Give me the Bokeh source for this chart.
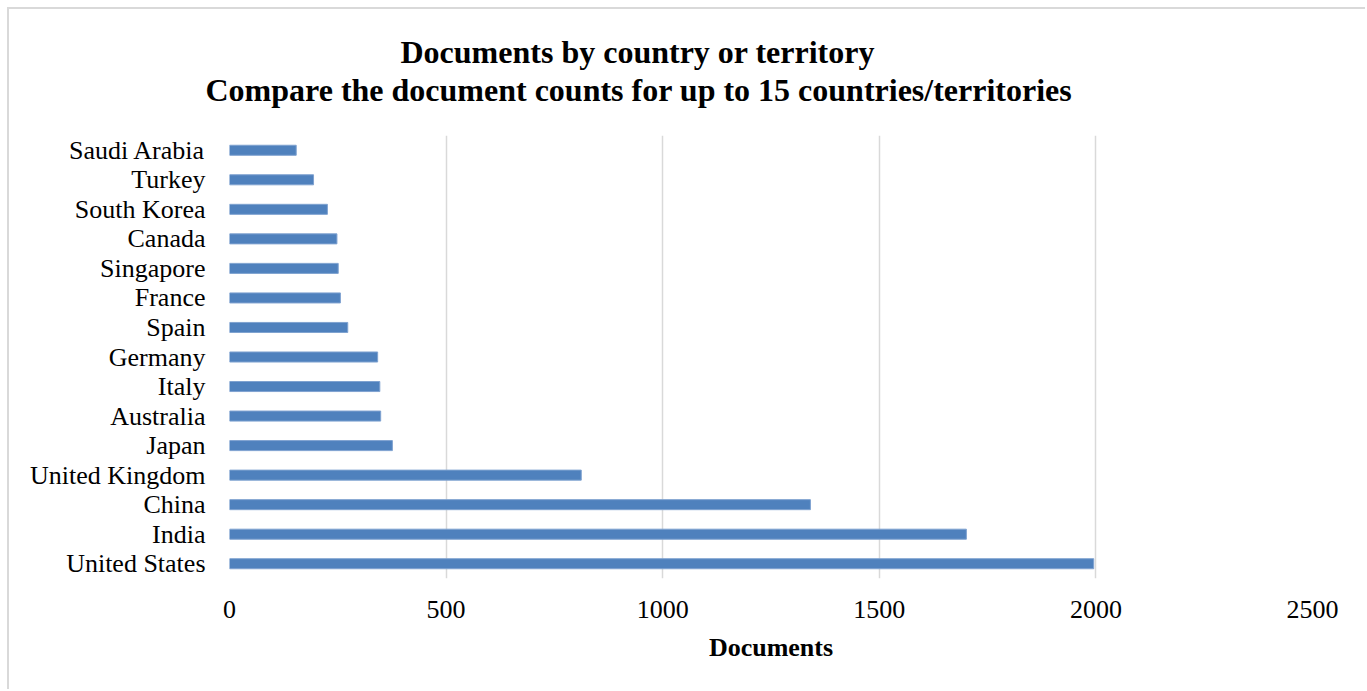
from bokeh.plotting import figure
from bokeh.models import FactorRange, Range1d, Title, ColumnDataSource, FixedTicker
from bokeh.embed import file_html
from bokeh.resources import INLINE

# Document counts per country/territory (top to bottom as listed)
countries = ["Saudi Arabia", "Turkey", "South Korea", "Canada", "Singapore",
             "France", "Spain", "Germany", "Italy", "Australia", "Japan",
             "United Kingdom", "China", "India", "United States"]
documents = [154, 194, 226, 248, 251, 256, 273, 342, 347, 349, 376,
             812, 1341, 1701, 1995]
x_ticks = [0, 500, 1000, 1500, 2000, 2500]

title_line1 = "Documents by country or territory"
title_line2 = "Compare the document counts for up to 15 countries/territories"
x_label = "Documents"

FONT = "Liberation Serif"
GRID = "#d9d9d9"
BAR = "#4f81bd"

# factor ranges draw the first factor at the bottom, so reverse
factors = list(reversed(countries))
source = ColumnDataSource(data=dict(country=countries, documents=documents))

p = figure(width=1358, height=682,
           y_range=FactorRange(factors=factors, range_padding=0),
           x_range=Range1d(0, 2500),
           output_backend="svg", toolbar_location=None,
           margin=(7, 0, 0, 7))
p.styles = {"border-top": f"2px solid {GRID}", "border-left": f"2px solid {GRID}"}

p.min_border_left = 220
p.min_border_right = 55
p.min_border_top = 126
p.min_border_bottom = 113
p.outline_line_color = None
p.background_fill_color = "white"
p.border_fill_color = "white"

p.hbar(y="country", right="documents", left=0, height=0.34, source=source,
       fill_color=BAR, line_color="#7fa2d0", line_width=1)

# grid
p.ygrid.grid_line_color = None
p.xgrid.grid_line_color = GRID
p.xgrid.grid_line_width = 1.5
p.xaxis.ticker = FixedTicker(ticks=x_ticks)

# axes
for ax in (p.xaxis, p.yaxis):
    ax.axis_line_color = None
    ax.major_tick_line_color = None
    ax.minor_tick_line_color = None
    ax.major_tick_out = 0
    ax.major_tick_in = 0
    ax.major_label_text_font = FONT
    ax.major_label_text_font_size = "26px"
    ax.major_label_text_color = "black"

p.yaxis.major_label_standoff = 24
p.xaxis.major_label_standoff = 22
p.xaxis.axis_label = x_label
p.xaxis.axis_label_text_font = FONT
p.xaxis.axis_label_text_font_size = "26px"
p.xaxis.axis_label_text_font_style = "bold"
p.xaxis.axis_label_text_color = "black"
p.xaxis.axis_label_standoff = 12

# two-line title: the panel added first sits closest to the plot frame
for text, offset, standoff in ((title_line2, -24, 56), (title_line1, 171, -57)):
    p.add_layout(Title(text=text, align="left", offset=offset,
                       standoff=standoff, text_font=FONT,
                       text_font_size="32px", text_font_style="bold",
                       text_color="black"), "above")

open("out.html", "w").write(file_html(p, INLINE))
